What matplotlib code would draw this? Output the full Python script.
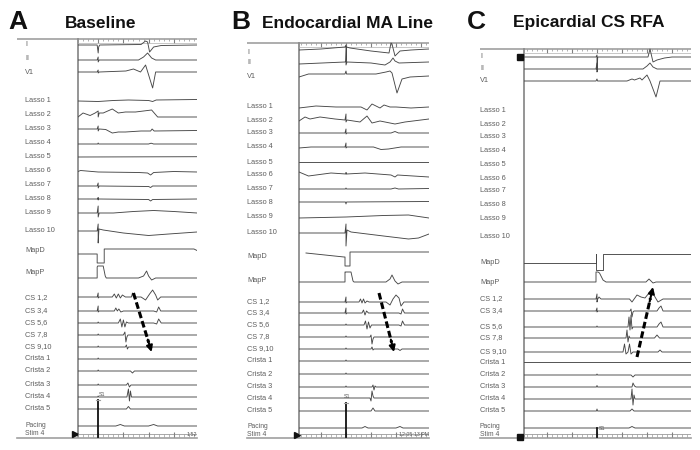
import numpy as np
import matplotlib
matplotlib.use("Agg")
import matplotlib.pyplot as plt

plt.rcParams['font.family'] = ['Liberation Sans', 'DejaVu Sans']

# ---------------- data ----------------
channels = ["I", "II", "V1",
            "Lasso 1", "Lasso 2", "Lasso 3", "Lasso 4", "Lasso 5",
            "Lasso 6", "Lasso 7", "Lasso 8", "Lasso 9", "Lasso 10",
            "MapD", "MapP", "CS 1,2", "CS 3,4", "CS 5,6", "CS 7,8", "CS 9,10",
            "Crista 1", "Crista 2", "Crista 3", "Crista 4", "Crista 5",
            "Pacing", "Stim 4"]
panel_letters = ["A", "B", "C"]
panel_titles = ["Baseline", "Endocardial MA Line", "Epicardial CS RFA"]
clock_labels = ["1:52", "12:05:13 PM", ""]
stim_labels = ["S1", "S1", "S1"]
# recording windows (ms relative to pacing stimulus)
windows = [(-80, 392), (-188, 332), (-292, 376)]
# activation-sequence arrows (ms, start/end)
arrow_times = [(140, 212), (132, 192), (160, 224)]

# Traces: (time ms, deflection px, up positive)
A_surface = {
    "I": [(-80, 0), (-4, 0), (0, -8), (2, -2), (6, 0), (170, 0.5), (188, 4), (196, 3), (204, -7), (220, -2), (250, -0.5), (392, 0)],
    "II": [(-80, 0), (-4, 0), (0, 3), (0, -2), (4, 0), (160, 0), (180, 3), (196, 7), (212, 2), (228, 0), (392, 0)],
    "V1": [(-80, 0), (-4, 0), (0, 2), (0, -1), (4, 0), (110, 1), (140, 3), (168, 0), (188, 7), (216, -16), (228, 0), (260, 0), (392, 0)],
}
A_lasso = {
    "Lasso 1": [(-80, -1), (0, -1.5), (60, -0.5), (120, 0), (200, -0.5), (216, -1.5), (230, 0), (392, 0.5)],
    "Lasso 2": [(-80, -2), (-60, 2), (-32, -0.5), (-12, 2), (0, 4), (0, -2), (4, 2), (20, 2), (56, 6), (80, 2), (108, 3), (148, 3), (180, 4), (212, 5), (236, -2), (392, -2)],
    "Lasso 3": [(-80, 0), (-4, 0), (0, 3), (0, -2), (4, 0), (30, -0.5), (56, -4), (80, -3), (108, -3), (170, -2), (208, -2), (214, 0), (222, -2), (392, -1.5)],
    "Lasso 4": [(-80, 0), (-2, 0), (0, 1), (2, 0), (200, 0), (210, 0.8), (220, 0), (392, 0)],
    "Lasso 5": [(-80, 0), (392, 0.3)],
    "Lasso 6": [(-80, 0.5), (-70, 1.5), (0, 0), (160, -0.5), (196, -1), (208, -3), (220, -0.5), (300, 0.5), (392, 0)],
    "Lasso 7": [(-80, 0), (-4, 0), (0, 3), (0, -2), (4, 0), (200, -0.5), (208, -1.5), (216, 0), (392, 0)],
    "Lasso 8": [(-80, 0), (-2, 0), (0, 1.5), (0, -1), (2, 0), (200, -0.5), (208, -2), (216, -0.5), (392, 0)],
    "Lasso 9": [(-80, 0), (-4, 0), (0, 7), (0, -4), (4, 0), (60, 0), (140, 1.5), (220, 2.5), (300, 1.5), (392, 0)],
    "Lasso 10": [(-80, 0), (-4, 0), (0, 7), (0, -12), (3, 2), (20, 1), (100, -2), (200, -4.5), (280, -3), (392, -1)],
}
A_cath = {
    "MapD": [(-80, 0), (-4, 0), (-4, -9), (24, -9), (24, 5), (380, 5), (392, 3.5)],
    "MapP": [(-80, 0), (-4, 0), (-4, 11), (-2, 12), (20, 12), (28, 2), (32, 0), (160, 0), (180, 2), (192, 7), (200, 2), (212, -2), (228, 0), (392, 0)],
    "CS 1,2": [(-80, 0), (-4, 0), (0, 4), (0, -1), (4, 0), (56, 0), (64, 3), (72, -1), (80, 3), (88, -1), (96, 2), (108, 0), (132, 0), (136, 4), (140, 0), (170, 0), (188, -3), (204, 3), (216, 7), (228, 2), (236, -3), (248, 0), (392, 0)],
    "CS 3,4": [(-80, 0), (-4, 0), (0, 5), (0, -1), (4, 0), (64, 0), (70, 3), (76, 0), (82, 2), (90, -1), (100, 0), (220, 0), (232, -1), (240, 4), (248, 0), (392, 0)],
    "CS 5,6": [(-80, 0), (-2, 0), (0, 1), (2, 0), (80, 0), (88, 4), (94, -4), (100, 3), (106, -4), (112, 1), (120, 0), (220, 0), (232, -1), (240, 4), (250, 0), (392, 0)],
    "CS 7,8": [(-80, 0), (-2, 0), (0, 1), (2, 0), (100, 0), (106, 3), (110, -7), (114, -2), (118, 0), (392, 0)],
    "CS 9,10": [(-80, 0), (-2, 0), (0, 1), (2, 0), (108, 0), (112, 2), (116, -2), (120, 0), (200, 0), (208, -1), (216, 0), (392, 0)],
}
A_crista = {
    "Crista 1": [(-80, 0), (-2, 0), (0, 1), (2, 0), (392, 0)],
    "Crista 2": [(-80, 0), (-2, 0), (0, 1), (2, 0), (128, 0), (136, -2), (144, 0), (392, 0)],
    "Crista 3": [(-80, 0), (-2, 0), (0, 1), (2, 0), (112, 0), (118, 2), (124, -2), (130, 0), (392, 0)],
    "Crista 4": [(-80, 0), (-2, 0), (0, 1), (2, 0), (114, 0), (120, 8), (124, -4), (128, 6), (132, 0), (392, 0)],
    "Crista 5": [(-80, 0), (-2, 0), (0, 1), (2, 0), (112, 0), (120, 2.5), (128, 0), (392, 0)],
    "Pacing": [(-80, 0), (70, 0), (88, 1.5), (104, 0), (200, 0), (220, 1.5), (236, 0), (392, 0)],
    "Stim 4": [(0, 0), (0, 37)],
}

B_surface = {
    "I": [(-188, 0), (-100, 1), (-4, 3), (0, 5), (0, -12), (2, 3), (16, 2), (100, -1), (172, -3), (180, 7), (184, 6), (196, -6), (216, -1), (260, 0), (332, 1)],
    "II": [(-188, -1), (-4, 1), (0, 2), (0, -2), (4, 1), (100, 0), (156, -2), (176, 1), (188, 5), (196, 2), (212, 0), (332, 1)],
    "V1": [(-188, 0), (-150, 3), (-4, 3), (0, 6), (2, 3), (120, 3), (160, 5), (176, 6), (184, 4), (204, -16), (224, -2), (256, 0), (332, 1)],
}
B_lasso = {
    "Lasso 1": [(-188, -1), (-120, 1), (-40, 0), (0, 0), (60, 0), (84, -3), (104, 3), (120, 1), (136, -1), (152, 2), (176, 0), (200, 0), (260, -1), (332, 0)],
    "Lasso 2": [(-188, -1), (-164, 3), (-144, 1), (-104, 3), (-44, 1), (-4, 0), (0, 6), (0, -2), (4, 0), (56, -2), (84, 4), (104, -3), (136, -1), (196, -4), (236, -2), (332, 1)],
    "Lasso 3": [(-188, 0), (-4, 0), (0, 4), (0, -1), (4, 0), (180, 0), (196, 1.5), (210, 0), (332, 0)],
    "Lasso 4": [(-188, -1), (-140, 0), (-4, 0), (0, 4), (0, -1), (4, 0), (110, 0), (140, -2.5), (170, -2), (220, 0), (332, 0)],
    "Lasso 5": [(-188, 0), (332, 0)],
    "Lasso 6": [(-188, 2), (-150, -2), (-60, 1), (0, 0), (0, 1.5), (2, 0), (76, 1), (180, -1), (196, -3), (206, -1), (332, -3)],
    "Lasso 7": [(-188, 0), (-2, 0), (0, 1), (2, 0), (180, 0), (196, 1), (210, 0), (332, 0.5)],
    "Lasso 8": [(-188, 0), (-2, 0), (0, -2), (2, 0), (332, 0.5)],
    "Lasso 9": [(-188, -1), (0, 0), (150, 1.5), (250, 2), (332, -1)],
    "Lasso 10": [(-188, 0), (-4, 0), (0, 9), (0, -13), (4, 3), (20, 1), (150, -3), (250, -6), (290, -5), (332, -1)],
}
B_cath = {
    "MapD": [(-160, 4), (-8, 0), (-4, 0), (-4, -9), (16, -9), (16, 5), (332, 5)],
    "MapP": [(-188, 0), (-4, 0), (-4, 10), (-2, 10), (20, 10), (28, 1), (32, 0), (160, 0), (176, 3), (184, 7), (196, 1), (208, -2), (224, 0), (332, 0)],
    "CS 1,2": [(-188, 0), (-4, 0), (0, 5), (0, -1), (4, 0), (52, 0), (58, 3), (64, -1), (70, 3), (76, -1), (84, 1), (92, 0), (160, 0), (176, -3), (188, 3), (200, 7), (212, 4), (220, -4), (232, 0), (332, 0)],
    "CS 3,4": [(-188, 0), (-4, 0), (0, 5), (0, -1), (4, 0), (64, 0), (70, 3), (76, -2), (82, 2), (90, 0), (212, 0), (220, -1), (226, 4), (234, 0), (332, 0)],
    "CS 5,6": [(-188, 0), (-2, 0), (0, 1), (2, 0), (72, 0), (78, 4), (84, -4), (90, 3), (96, -3), (102, 0), (212, 0), (220, -1), (226, 4), (234, 0), (332, 0)],
    "CS 7,8": [(-188, 0), (-2, 0), (0, 1), (2, 0), (96, 0), (100, 2), (104, -7), (108, -2), (112, 0), (332, 0)],
    "CS 9,10": [(-188, 0), (-2, 0), (0, 1), (2, 0), (100, 0), (104, 2), (108, -1), (112, 0), (208, 0), (216, -1.5), (224, 0), (332, 0)],
}
B_crista = {
    "Crista 1": [(-188, 0), (-2, 0), (0, 1), (2, 0), (332, 0)],
    "Crista 2": [(-188, 0), (-2, 0), (0, 1), (2, 0), (332, 0)],
    "Crista 3": [(-188, 0), (-2, 0), (0, 1), (2, 0), (104, 0), (108, 2), (112, -3), (116, 1), (120, 0), (332, 0)],
    "Crista 4": [(-188, 0), (96, 0), (100, -3), (104, 7), (108, 2), (112, 0), (332, 0)],
    "Crista 5": [(-188, 0), (-2, 0), (0, 1), (2, 0), (100, 0), (108, 3), (116, 0), (332, 0)],
    "Pacing": [(-188, 0), (64, 0), (76, 1.5), (88, 0), (200, 0), (216, 1.5), (228, 0), (332, 0)],
    "Stim 4": [(0, 0), (0, 34)],
}

C_surface = {
    "I": [(-292, 0), (-4, 0), (0, 2), (0, -13), (3, 0), (204, 0), (212, 8), (224, -5), (240, -3), (270, -1), (300, 0), (376, 0)],
    "II": [(-292, 0), (-4, 0), (0, 6), (0, -3), (3, 0), (184, 0), (200, 3), (212, 6), (224, 2), (240, 0), (376, 0)],
    "V1": [(-292, 0), (-4, 0), (0, 2), (2, 0), (120, 0), (140, 2), (150, 1), (172, 3), (180, 1), (200, 6), (212, 0), (236, -16), (252, 0), (376, 0)],
}
C_lasso = {}
C_cath = {
    "MapD": [(-292, 0), (-4, 0), (-4, 9), (-4, -7), (24, -7), (24, 9), (376, 9)],
    "MapP": [(-292, 0), (-4, 0), (-4, 10), (4, 10), (10, 9), (16, 6), (24, 2), (36, 0), (196, 0), (208, 3), (216, 1), (224, -1), (236, 0), (376, 0)],
    "CS 1,2": [(-292, 0), (-4, 0), (0, 5), (0, -3), (3, 0), (8, 2), (16, 0), (130, 0), (140, -3), (160, 4), (176, 2), (192, 1), (208, 6), (220, 8), (232, 2), (244, -3), (264, 0), (376, 0)],
    "CS 3,4": [(-292, 0), (-4, 0), (0, 3), (0, -1), (3, 0), (132, 0), (136, 2), (140, -6), (144, -1), (148, 0), (240, 0), (248, 3), (256, 5), (264, 0), (376, 0)],
    "CS 5,6": [(-292, 0), (-2, 0), (0, 1), (2, 0), (124, 0), (128, 10), (132, -3), (136, 12), (140, -2), (144, 0), (240, 0), (248, 3), (256, 5), (264, 0), (376, 0)],
    "CS 7,8": [(-292, 0), (116, 0), (120, 8), (124, -4), (128, 2), (132, 0), (230, 0), (240, 3), (250, 0), (376, 0)],
    "CS 9,10": [(-292, 0), (104, 0), (110, 8), (116, -2), (124, 0), (130, 8), (136, -2), (144, 0), (244, 0), (252, 2), (260, 0), (376, 0)],
}
C_crista = {
    "Crista 1": [(-292, 0), (376, 0)],
    "Crista 2": [(-292, 0), (-2, 0), (0, 1), (2, 0), (136, 0), (144, -2), (152, 0), (376, 0)],
    "Crista 3": [(-292, 0), (-2, 0), (0, 1.5), (2, 0), (140, 0), (144, 4), (150, 1), (156, 0), (376, 0)],
    "Crista 4": [(-292, 0), (136, 0), (140, 10), (144, -6), (148, 4), (152, 0), (376, 0)],
    "Crista 5": [(-292, 0), (-2, 0), (0, 2), (2, 0), (132, 0), (140, 2), (148, 0), (376, 0)],
    "Pacing": [(-292, 0), (128, 0), (140, 1.5), (152, 0), (376, 0)],
    "Stim 4": [(0, 0), (0, 9)],
}

panel_traces = [
    [A_surface, A_lasso, A_cath, A_crista],
    [B_surface, B_lasso, B_cath, B_crista],
    [C_surface, C_lasso, C_cath, C_crista],
]

# ---------------- layout (pixels) ----------------
W, H = 700, 450
layout = [
    dict(letter_x=8, title_x=65, label_x=25, line_left=17, x0=78, x1=197, top=39, bottom=437,
         label_y=[45, 59, 72, 100, 114, 128, 143, 157, 171, 185, 199, 213, 231, 250, 272,
                  298, 311, 323, 335, 347, 359, 371, 384, 396, 409, 425.5, 433.5],
         trace_y=[45, 60, 72, 100, 115, 129, 144, 157, 172, 186, 199, 213, 231, 254, 278,
                  297, 311, 323, 335, 347, 359, 371, 385, 397, 409, 426, 437],
         stim_top=400, arrow_y=(293, 352), s1=(3, 395), clock_y=434, marker='>', mark_xy=[(75, 434)]),
    dict(letter_x=231, title_x=262, label_x=247, line_left=247, x0=299, x1=429, top=43, bottom=437,
         label_y=[52, 63, 77, 107, 120, 133, 147, 162, 174, 189, 202, 217, 233, 256, 280,
                  302, 313, 325, 337, 349, 361, 374, 387, 398, 411, 426.5, 434],
         trace_y=[50, 63, 77, 107, 120, 133, 147, 162, 174, 189, 202, 217, 233, 257, 282,
                  302, 313, 325, 337, 349, 361, 374, 387, 398, 411, 428, 437],
         stim_top=403, arrow_y=(293, 352), s1=(-8, 397), clock_y=434, marker='>', mark_xy=[(297, 435)]),
    dict(letter_x=467, title_x=513, label_x=480, line_left=480, x0=524, x1=691, top=49, bottom=437,
         label_y=[56, 69, 81, 110, 124, 137, 150, 164, 178, 191, 204, 218, 236, 262, 283,
                  299, 311, 327, 338, 352, 362, 375, 387, 399, 411, 426, 434],
         trace_y=[57, 69, 81, 110, 124, 137, 150, 164, 178, 191, 204, 218, 236, 263, 282,
                  299, 311, 327, 338, 352, 362, 375, 387, 399, 411, 428, 437],
         stim_top=None, arrow_y=(357, 287), s1=(8, 429), clock_y=434, marker='s', mark_xy=[(520, 57), (520, 437)]),
]

TRACE = '#474747'
FRAME = '#8c8c8c'
LABEL = '#5e5e5e'

fig = plt.figure(figsize=(W / 100, H / 100), dpi=100)
deco = fig.add_axes([0, 0, 1, 1])
deco.set_xlim(0, W)
deco.set_ylim(H, 0)
deco.axis('off')

for p in range(3):
    L = layout[p]
    deco.text(L['letter_x'], 22, panel_letters[p], fontsize=19, fontweight='bold', va='center', ha='left', color='#111')
    deco.text(L['title_x'], 23, panel_titles[p], fontsize=12.5, fontweight='bold', va='center', ha='left', color='#111')
    deco.plot([L['line_left'], L['x1']], [L['top'], L['top']], color='#a0a0a0', lw=1.2, solid_capstyle='butt')
    deco.plot([L['x0'], L['x0']], [L['top'], L['bottom']], color=FRAME, lw=1.3)
    deco.plot([L['line_left'], L['x1']], [L['bottom'] + 0.5, L['bottom'] + 0.5], color='#a0a0a0', lw=1.2)
    for (mx, my) in L['mark_xy']:
        deco.plot(mx, my, marker=L['marker'], ms=5, color='#111', mec='#111')
    for name, ly in zip(channels, L['label_y']):
        fs = 4.9 if name in ("Pacing", "Stim 4") else 5.3
        deco.text(L['label_x'], ly, name, fontsize=fs, color=LABEL, va='center', ha='left')

    t0, t1 = windows[p]
    tax = fig.add_axes([L['x0'] / W, 0, (L['x1'] - L['x0']) / W, 1])
    tax.set_xlim(t0, t1)
    tax.set_ylim(H, 0)
    tax.axis('off')

    minor = np.arange(np.ceil(t0 / 20) * 20, t1, 20)
    major = np.arange(np.ceil(t0 / 100) * 100, t1, 100)
    tax.vlines(minor, L['top'], L['top'] + 1.8, color='#909090', lw=0.5)
    tax.vlines(major, L['top'], L['top'] + 4, color='#808080', lw=0.8)
    tax.hlines([L['top'] + 3.5], t0, t1, color='#b0b0b0', lw=0.5)
    tax.hlines([L['bottom'] - 3], t0, t1, color='#9a9a9a', lw=0.6)
    tax.vlines(minor, L['bottom'] - 3, L['bottom'], color='#9a9a9a', lw=0.5)
    tax.vlines(major, L['bottom'] - 5, L['bottom'], color='#808080', lw=0.8)

    for group in panel_traces[p]:
        for name, pts in group.items():
            row = L['trace_y'][channels.index(name)]
            t = np.array([q[0] for q in pts], dtype=float)
            a = np.array([q[1] for q in pts], dtype=float)
            if name == "Stim 4":
                tax.plot(t, row - a, color='#111', lw=1.3)
            else:
                tax.plot(t, row - a, color=TRACE, lw=0.65)

    if L['stim_top'] is not None:
        tax.plot([-8, 8], [L['stim_top'], L['stim_top']], color='#a0a0a0', lw=0.8)
    tax.text(L['s1'][0], L['s1'][1], stim_labels[p], fontsize=3.8, color='#555', ha='left', va='center')
    if clock_labels[p]:
        tax.text(t1, L['clock_y'], clock_labels[p], fontsize=3.8, color='#555', ha='right', va='center')

    ts, te = arrow_times[p]
    ys, ye = L['arrow_y']
    frac = 0.84
    tm = ts + (te - ts) * frac
    ym = ys + (ye - ys) * frac
    tax.plot([ts, tm], [ys, ym], color='black', lw=2.2, linestyle=(0, (2.2, 1.0)), solid_capstyle='butt')
    tax.annotate('', xy=(te, ye), xytext=(tm - (te - ts) * 0.05, ym - (ye - ys) * 0.05),
                 arrowprops=dict(arrowstyle='-|>', color='black', lw=1.5, mutation_scale=9, shrinkA=0, shrinkB=0))

fig.savefig('out.png', dpi=100)
